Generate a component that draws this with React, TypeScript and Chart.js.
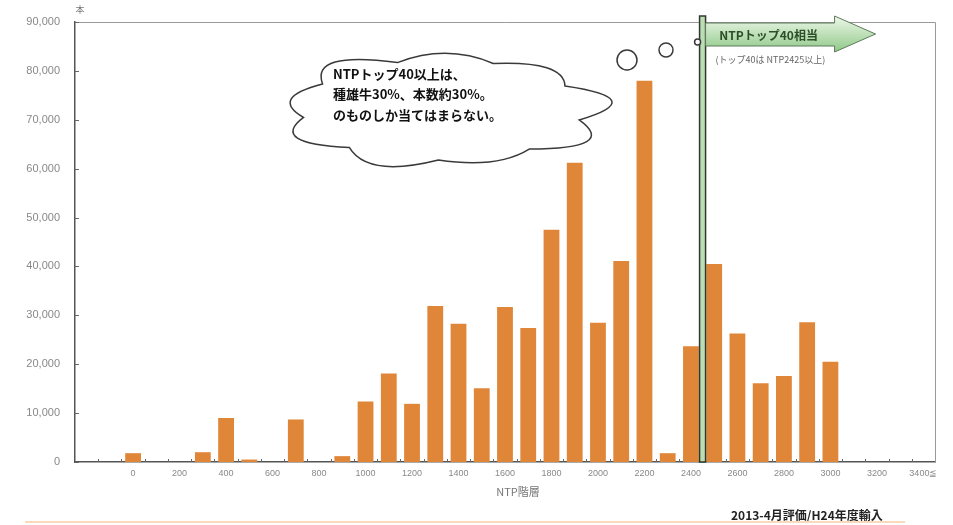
import React, { useEffect, useRef } from "react";
import { Chart, registerables } from "chart.js";

Chart.register(...registerables);

const categories = [
  "-200", "-100", "0", "100", "200", "300", "400", "500", "600", "700",
  "800", "900", "1000", "1100", "1200", "1300", "1400", "1500", "1600", "1700",
  "1800", "1900", "2000", "2100", "2200", "2300", "2400", "2500", "2600", "2700",
  "2800", "2900", "3000", "3100", "3200", "3300", "3400",
];

const counts = [
  0, 0, 1800, 0, 0, 2000, 9000, 500, 0, 8700,
  0, 1200, 12400, 18100, 11900, 31900, 28300, 15100, 31700, 27400,
  47500, 61200, 28500, 41100, 78000, 1800, 23700, 40500, 26300, 16100,
  17600, 28600, 20500, 0, 0, 0, 0,
];

const shownTicks = ["0", "200", "400", "600", "800", "1000", "1200", "1400", "1600", "1800", "2000", "2200", "2400", "2600", "2800", "3000", "3200"];
const lastTick = "3400";
const lastTickLabel = "3400≦";

const yUnit = "本";
const xTitle = "NTP階層";
const footer = "2013-4月評価/H24年度輸入";
const cloudLines = ["NTPトップ40以上は、", "種雄牛30%、本数約30%。", "のものしか当てはまらない。"];
const arrowText = "NTPトップ40相当";
const arrowSub = "(トップ40は NTP2425以上)";
const markerLeft = "2400";
const markerRight = "2500";

const JP = '"Noto Sans CJK JP", "Noto Sans", sans-serif';
const SANS = '"Liberation Sans", Arial, sans-serif';

function drawCloud(ctx: CanvasRenderingContext2D, cx: number, cy: number, rx: number, ry: number, n: number, bulge: number) {
  ctx.beginPath();
  for (let i = 0; i <= n; i++) {
    const a = (Math.PI * 2 * i) / n + 0.2;
    const px = cx + rx * Math.cos(a);
    const py = cy + ry * Math.sin(a);
    if (i === 0) {
      ctx.moveTo(px, py);
    } else {
      const am = a - Math.PI / n;
      const b = bulge * (1 + 0.1 * Math.sin(i * 2.3));
      ctx.quadraticCurveTo(cx + rx * b * Math.cos(am), cy + ry * b * Math.sin(am), px, py);
    }
  }
  ctx.closePath();
  ctx.fillStyle = "#ffffff";
  ctx.fill();
  ctx.strokeStyle = "#3a3a3a";
  ctx.lineWidth = 1.5;
  ctx.stroke();
}

const annotationPlugin = {
  id: "annotations",
  afterDraw(chart: any) {
    const ctx: CanvasRenderingContext2D = chart.ctx;
    const { left, right, top, bottom } = chart.chartArea;
    const xs = chart.scales.x;
    const ys = chart.scales.y;
    ctx.save();

    // frame
    ctx.strokeStyle = "#9a9a9a";
    ctx.lineWidth = 1;
    ctx.beginPath();
    ctx.moveTo(left, top + 0.5);
    ctx.lineTo(right + 0.5, top + 0.5);
    ctx.lineTo(right + 0.5, bottom);
    ctx.stroke();

    // y tick marks (inside)
    ctx.strokeStyle = "#666";
    for (let v = 0; v <= 90000; v += 10000) {
      const y = Math.round(ys.getPixelForValue(v)) + 0.5;
      ctx.beginPath();
      ctx.moveTo(left, y);
      ctx.lineTo(left + 4, y);
      ctx.stroke();
    }
    // x tick marks at category boundaries
    const step = xs.getPixelForValue(1) - xs.getPixelForValue(0);
    for (let i = 1; i < categories.length; i++) {
      const x = Math.round(xs.getPixelForValue(i) - step / 2) + 0.5;
      ctx.beginPath();
      ctx.moveTo(x, bottom);
      ctx.lineTo(x, bottom - 3);
      ctx.stroke();
    }

    // unit label
    ctx.fillStyle = "#777";
    ctx.font = `9px ${JP}`;
    ctx.textAlign = "center";
    ctx.textBaseline = "middle";
    ctx.fillText(yUnit, left + 5, 10);

    // x title
    ctx.font = `11px ${JP}`;
    ctx.fillStyle = "#777";
    ctx.fillText(xTitle, 518, 492);

    // footer
    ctx.font = `bold 12px ${JP}`;
    ctx.fillStyle = "#222";
    ctx.textAlign = "left";
    ctx.fillText(footer, 731, 515);

    // bottom orange rule
    ctx.strokeStyle = "#fbd9bd";
    ctx.lineWidth = 2;
    ctx.beginPath();
    ctx.moveTo(25, 522);
    ctx.lineTo(905, 522);
    ctx.stroke();

    // marker pole
    const il = categories.indexOf(markerLeft);
    const ir = categories.indexOf(markerRight);
    const px = (xs.getPixelForValue(il) + xs.getPixelForValue(ir)) / 2;
    ctx.fillStyle = "#bcdcb4";
    ctx.fillRect(px - 3, 16, 6, bottom - 16);
    ctx.strokeStyle = "#2f3a2f";
    ctx.lineWidth = 1.5;
    ctx.strokeRect(px - 3, 16, 6, bottom - 16);

    // arrow
    const ax0 = px + 3;
    const ah = ax0 + 129;
    const tip = ax0 + 170;
    const grad = ctx.createLinearGradient(0, 16, 0, 52);
    grad.addColorStop(0, "#eef7ea");
    grad.addColorStop(1, "#8fc987");
    ctx.beginPath();
    ctx.moveTo(ax0, 23);
    ctx.lineTo(ah, 23);
    ctx.lineTo(ah, 16);
    ctx.lineTo(tip, 34);
    ctx.lineTo(ah, 52);
    ctx.lineTo(ah, 46);
    ctx.lineTo(ax0, 46);
    ctx.closePath();
    ctx.fillStyle = grad;
    ctx.fill();
    ctx.strokeStyle = "#5d7a5a";
    ctx.lineWidth = 1;
    ctx.stroke();
    ctx.font = `bold 12px ${JP}`;
    ctx.fillStyle = "#2c4f2a";
    ctx.textAlign = "center";
    ctx.fillText(arrowText, ax0 + 63, 35);
    ctx.font = `9px ${JP}`;
    ctx.fillStyle = "#666";
    ctx.textAlign = "left";
    ctx.fillText(arrowSub, ax0 + 10, 60);

    // thought bubbles
    ctx.fillStyle = "#fff";
    ctx.strokeStyle = "#3a3a3a";
    ctx.lineWidth = 1.5;
    const bubbles = [[627, 60, 10], [666, 50, 7], [px - 5, 42, 3]];
    for (const [bx, by, br] of bubbles) {
      ctx.beginPath();
      ctx.arc(bx, by, br, 0, Math.PI * 2);
      ctx.fill();
      ctx.stroke();
    }

    // cloud
    drawCloud(ctx, 442, 110, 140, 50, 9, 1.38);
    ctx.fillStyle = "#111";
    ctx.font = `bold 13px ${JP}`;
    ctx.textAlign = "left";
    ctx.textBaseline = "middle";
    cloudLines.forEach((t, i) => ctx.fillText(t, 333, 74 + i * 20.5));

    ctx.restore();
  },
};

export default function App() {
  const ref = useRef<HTMLCanvasElement>(null);
  useEffect(() => {
    document.body.style.margin = "0";
    const chart = new Chart(ref.current!, {
      type: "bar",
      data: {
        labels: categories,
        datasets: [
          {
            data: counts,
            backgroundColor: "#E08638",
            borderWidth: 0,
            barPercentage: 0.68,
            categoryPercentage: 1,
          },
        ],
      },
      options: {
        animation: false,
        responsive: false,
        layout: { padding: { left: 0, right: 18, top: 22, bottom: 0 } },
        plugins: { legend: { display: false }, tooltip: { enabled: false } },
        scales: {
          x: {
            afterFit: (s: any) => { s.height = 63; },
            grid: { display: false, drawTicks: false },
            border: { display: true, color: "#555", width: 1.5 },
            ticks: {
              autoSkip: false,
              maxRotation: 0,
              minRotation: 0,
              padding: 6,
              color: "#888",
              font: { size: 9, family: SANS },
              callback: (_v: any, i: number) => {
                const c = categories[i];
                if (c === lastTick) return lastTickLabel;
                return shownTicks.includes(c) ? c : "";
              },
            },
          },
          y: {
            min: 0,
            max: 90000,
            afterFit: (s: any) => { s.width = 75; },
            grid: { display: false, drawTicks: false },
            border: { display: true, color: "#555", width: 1.5 },
            ticks: {
              stepSize: 10000,
              padding: 15,
              color: "#888",
              font: { size: 11, family: SANS },
              callback: (v: any) => Number(v).toLocaleString("en-US"),
            },
          },
        },
      },
      plugins: [annotationPlugin],
    });
    return () => chart.destroy();
  }, []);
  return (
    <div style={{ width: 953, height: 525, background: "#fff" }}>
      <canvas ref={ref} width={953} height={525} style={{ display: "block" }} />
    </div>
  );
}
